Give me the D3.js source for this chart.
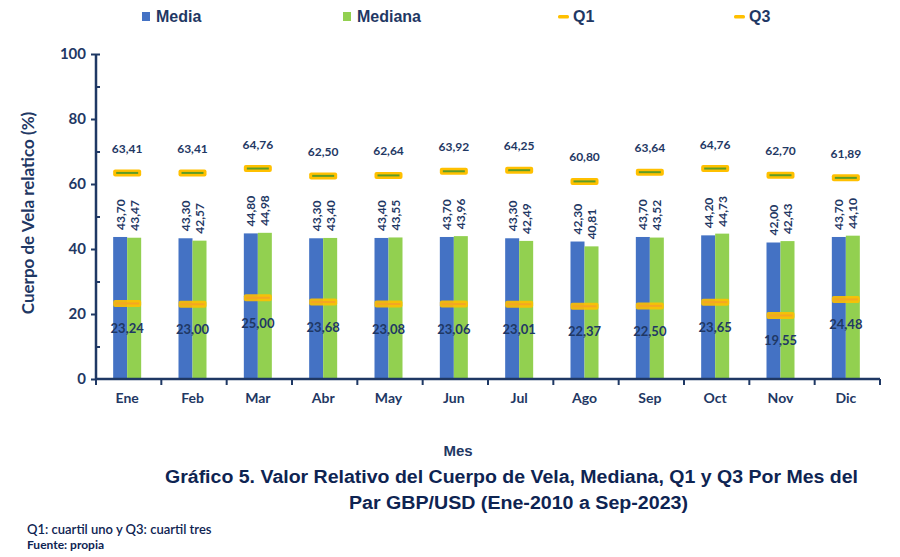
<!DOCTYPE html>
<html><head><meta charset="utf-8">
<script src="https://cdn.jsdelivr.net/npm/d3@7"></script>
<style>
body{margin:0;background:#fff;}
svg{display:block;}
</style></head>
<body>
<svg id="c" width="900" height="557"></svg>
<script>
const months = ["Ene","Feb","Mar","Abr","May","Jun","Jul","Ago","Sep","Oct","Nov","Dic"];
const media   = [43.70,43.30,44.80,43.30,43.40,43.70,43.30,42.30,43.70,44.20,42.00,43.70];
const mediana = [43.47,42.57,44.98,43.40,43.55,43.96,42.49,40.81,43.52,44.73,42.43,44.10];
const q1      = [23.24,23.00,25.00,23.68,23.08,23.06,23.01,22.37,22.50,23.65,19.55,24.48];
const q3      = [63.41,63.41,64.76,62.50,62.64,63.92,64.25,60.80,63.64,64.76,62.70,61.89];
const yTicks  = [0,20,40,60,80,100];
const seriesNames = ["Media","Mediana","Q1","Q3"];

const navy = "#1F3864";
const blue = "#4472C4", green = "#92D050", gold = "#FFC000", q1Line = "#F5A623", q3Line = "#5E9C26";
const fmt = v => v.toFixed(2).replace(".", ",");
const LATO = "Lato,'Open Sans',sans-serif";
const ARIAL = "'Liberation Sans',Arial,sans-serif";

const svg = d3.select("#c");
const x = d3.scaleBand().domain(months).range([96, 880]);
const pairW = 28;
const xs = d3.scaleBand().domain(["Media","Mediana"]).range([0, pairW]);
const y = d3.scaleLinear().domain([0,100]).range([379, 54]);
const cx = m => x(m) + x.bandwidth()/2 - 1.5;

const rows = months.map((m,i)=>({m, media:media[i], mediana:mediana[i], q1:q1[i], q3:q3[i]}));
const g = svg.append("g");
rows.forEach(r=>{
  [["Media", r.media, blue],["Mediana", r.mediana, green]].forEach(([k,v,c])=>{
    const bx = cx(r.m) - pairW/2 + xs(k);
    g.append("rect").attr("x", bx).attr("y", y(v)).attr("width", xs.bandwidth()).attr("height", y(0)-y(v)).attr("fill", c);
    g.append("text").attr("transform", `translate(${bx + xs.bandwidth()/2 + 4.5},${y(v)-7}) rotate(-90)`)
      .style("font-family", LATO).attr("font-size", 12).attr("font-weight", 700).attr("fill", navy).text(fmt(v));
  });
  // Q1
  g.append("rect").attr("x", cx(r.m)-pairW/2).attr("y", y(r.q1)-3.5).attr("width", pairW).attr("height", 7).attr("rx", 2).attr("fill", gold).attr("opacity", 0.9);
  g.append("line").attr("x1", cx(r.m)-pairW/2+2).attr("x2", cx(r.m)+pairW/2-2).attr("y1", y(r.q1)).attr("y2", y(r.q1)).attr("stroke", q1Line).attr("stroke-width", 2);
  g.append("text").attr("x", cx(r.m)).attr("y", y(r.q1)+30).attr("text-anchor","middle")
    .style("font-family", LATO).attr("font-size", 13).attr("font-weight", 700).attr("fill", navy).text(fmt(r.q1));
  // Q3
  g.append("rect").attr("x", cx(r.m)-pairW/2).attr("y", y(r.q3)-3.5).attr("width", pairW).attr("height", 7).attr("rx", 2).attr("fill", gold);
  g.append("line").attr("x1", cx(r.m)-pairW/2+3).attr("x2", cx(r.m)+pairW/2-3).attr("y1", y(r.q3)).attr("y2", y(r.q3)).attr("stroke", q3Line).attr("stroke-width", 2);
  g.append("text").attr("x", cx(r.m)).attr("y", y(r.q3)-20).attr("text-anchor","middle")
    .style("font-family", LATO).attr("font-size", 12).attr("font-weight", 700).attr("fill", navy).text(fmt(r.q3));
});

// y axis
const ya = svg.append("g").attr("transform","translate(96,0)")
  .call(d3.axisLeft(y).tickValues(yTicks).tickSize(5).tickFormat(d=>d));
ya.select(".domain").attr("stroke", navy).attr("stroke-width", 2.5).attr("d", `M0,${y(100)}V${y(0)}`);
ya.selectAll(".tick line").attr("stroke", navy).attr("stroke-width", 2);
ya.selectAll(".tick text").attr("fill", navy).attr("font-size", 15).attr("font-weight", 700).style("font-family", LATO).attr("x", -10);
const minor = svg.append("g").attr("transform","translate(96,0)")
  .call(d3.axisRight(y).tickValues([10,30,50,70,90,100]).tickSize(4).tickFormat(""));
minor.select(".domain").remove();
minor.selectAll(".tick line").attr("stroke", navy).attr("stroke-width", 2);

// x axis
const xa = svg.append("g").attr("transform",`translate(0,${y(0)})`)
  .call(d3.axisBottom(x).tickSize(0).tickPadding(14));
xa.select(".domain").attr("stroke", navy).attr("stroke-width", 2.5).attr("d","M96,0H880");
xa.selectAll(".tick text").attr("fill", navy).attr("font-size", 14).attr("font-weight", 700).style("font-family", LATO).attr("dx", -1.5);
const bounds = months.map(m=>x(m)+x.bandwidth()).concat([x(months[0])]);
svg.append("g").selectAll("line").data(bounds).join("line")
  .attr("x1", d=>d).attr("x2", d=>d).attr("y1", y(0)).attr("y2", y(0)+6).attr("stroke", navy).attr("stroke-width", 2);

// y label
svg.append("text").attr("transform","translate(34,213) rotate(-90)").attr("text-anchor","middle")
  .style("font-family", LATO).attr("font-size", 17).attr("font-weight", 700).attr("fill", navy).text("Cuerpo de Vela relatico (%)");

// legend
const leg = [{n:seriesNames[0],x:142,t:"sq",c:blue},{n:seriesNames[1],x:343,t:"sq",c:green},{n:seriesNames[2],x:558,t:"dash",c:gold},{n:seriesNames[3],x:734,t:"dash",c:gold}];
leg.forEach(l=>{
  if(l.t==="sq") svg.append("rect").attr("x", l.x).attr("y", 12).attr("width", 8).attr("height", 9).attr("fill", l.c);
  else svg.append("rect").attr("x", l.x).attr("y", 15).attr("width", 11).attr("height", 3.5).attr("rx",1.5).attr("fill", l.c);
  svg.append("text").attr("x", l.x + (l.t==="sq"?14:15)).attr("y", 22).attr("font-size", 16).attr("font-weight", 700)
    .attr("fill", navy).style("font-family", ARIAL).text(l.n);
});

// axis title & caption
svg.append("text").attr("x", 458).attr("y", 456).attr("text-anchor","middle").attr("font-size", 15).attr("font-weight", 700)
  .style("font-family", ARIAL).attr("fill", navy).text("Mes");
svg.append("text").attr("x", 165).attr("y", 483).attr("font-size", 17.5).attr("font-weight", 700)
  .attr("textLength", 693).attr("lengthAdjust", "spacingAndGlyphs")
  .style("font-family", ARIAL).attr("fill", "#0E2452").text("Gráfico 5. Valor Relativo del Cuerpo de Vela, Mediana, Q1 y Q3 Por Mes del");
svg.append("text").attr("x", 349).attr("y", 509).attr("font-size", 17.5).attr("font-weight", 700)
  .attr("textLength", 339).attr("lengthAdjust", "spacingAndGlyphs")
  .style("font-family", ARIAL).attr("fill", "#0E2452").text("Par GBP/USD (Ene-2010 a Sep-2023)");
svg.append("text").attr("x", 27).attr("y", 534).attr("font-size", 13).attr("font-weight", 600).style("font-family", LATO).attr("fill", "#0E2452").text("Q1: cuartil uno y Q3: cuartil tres");
svg.append("text").attr("x", 27).attr("y", 549).attr("font-size", 12).attr("font-weight", 700).style("font-family", LATO).attr("fill", "#0E2452").text("Fuente: propia");
</script>
</body></html>
